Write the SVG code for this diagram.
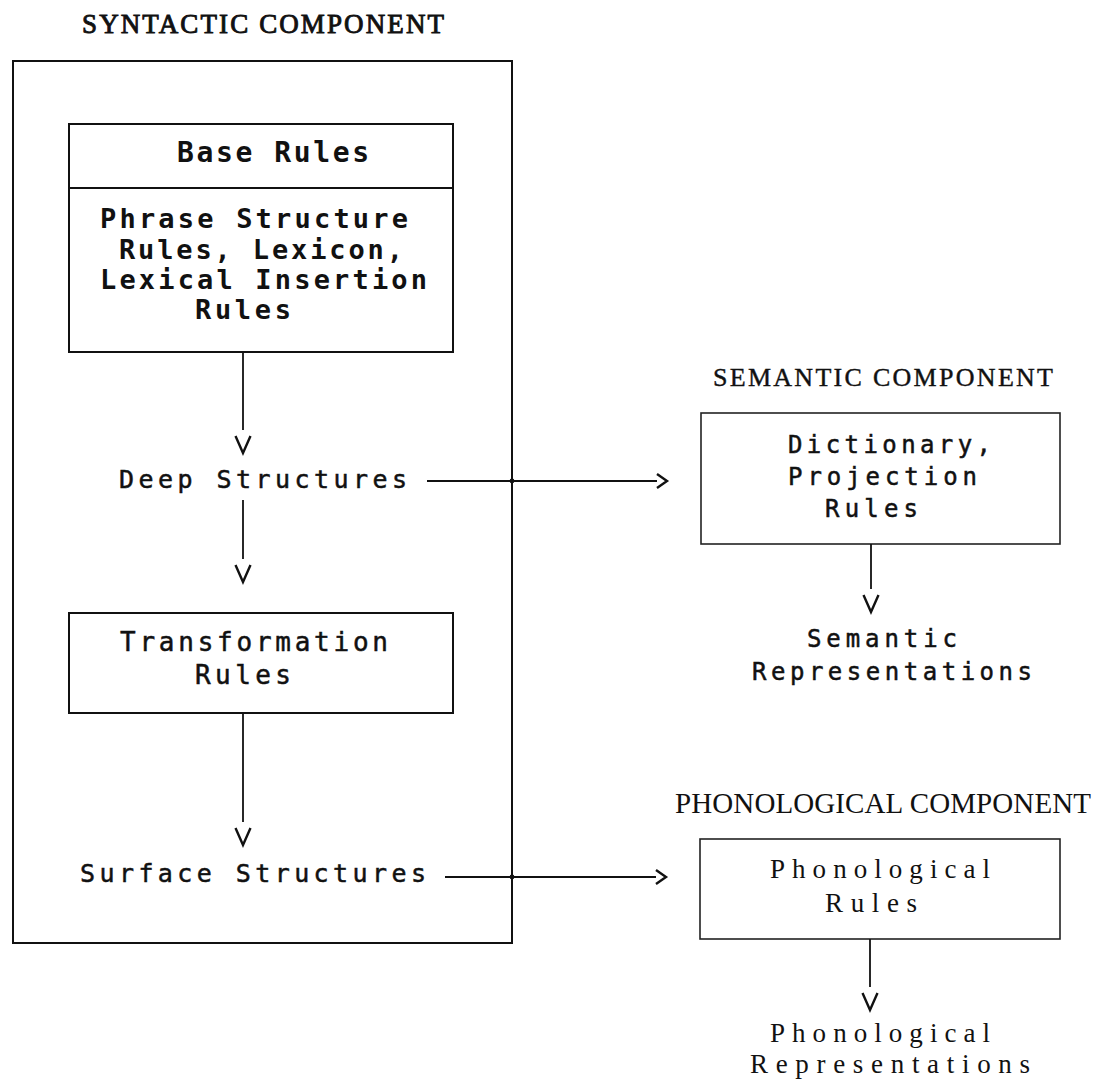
<svg xmlns="http://www.w3.org/2000/svg" width="1094" height="1080" viewBox="0 0 1094 1080">
  <style>
    .bg { fill: #ffffff; }
    .box { fill: none; stroke: #111; stroke-width: 2; }
    .box-thin { fill: none; stroke: #222; stroke-width: 1.6; }
    .conn { fill: none; stroke: #111; stroke-width: 1.8; }
    .title { font-family: "Liberation Serif", "Times New Roman", serif; fill: #111; stroke: #111; stroke-width: 0.9; }
    .title-serif { font-family: "Liberation Serif", "Times New Roman", serif; fill: #111; }
    .mono { font-family: "DejaVu Sans Mono", "Liberation Mono", monospace; fill: #111; stroke: #111; stroke-width: 0.5; }
    .bold { font-weight: bold; stroke-width: 0; }
    .serif { font-family: "Liberation Serif", "Times New Roman", serif; fill: #111; }
  </style>
  <defs>
    <!-- open chevron heads, drawn a little past the end of each line -->
    <marker id="headV" markerUnits="userSpaceOnUse" orient="auto" markerWidth="30" markerHeight="30" refX="-6" refY="0" viewBox="-8 -10 30 20" overflow="visible">
      <path d="M0,-7.5 L17,0 L0,7.5" fill="none" stroke="#111" stroke-width="2.4"/>
    </marker>
    <marker id="headGt" markerUnits="userSpaceOnUse" orient="auto" markerWidth="20" markerHeight="20" refX="0" refY="0" viewBox="-2 -10 20 20" overflow="visible">
      <path d="M0,-7 L10,0 L0,7" fill="none" stroke="#111" stroke-width="2.4"/>
    </marker>
  </defs>

  <rect class="bg" x="0" y="0" width="1094" height="1080"/>

  <!-- syntactic component -->
  <g id="syntactic-component">
    <text class="title" x="82" y="33" font-size="27" textLength="362" lengthAdjust="spacing">SYNTACTIC COMPONENT</text>
    <rect class="box" x="13" y="61" width="499" height="882"/>
  </g>

  <g id="base-rules">
    <rect class="box" x="69" y="124" width="384" height="228"/>
    <line class="box" x1="69" y1="188" x2="453" y2="188"/>
    <text class="mono bold" x="177" y="162" font-size="28" textLength="192" lengthAdjust="spacing">Base Rules</text>
    <text class="mono bold" x="100" y="228" font-size="27" textLength="308" lengthAdjust="spacing">Phrase Structure</text>
    <text class="mono bold" x="119" y="259" font-size="27" textLength="284" lengthAdjust="spacing">Rules, Lexicon,</text>
    <text class="mono bold" x="100" y="289" font-size="27" textLength="327" lengthAdjust="spacing">Lexical Insertion</text>
    <text class="mono bold" x="195" y="319" font-size="27" textLength="96" lengthAdjust="spacing">Rules</text>
  </g>

  <g id="deep-structures">
    <text class="mono" x="119" y="488" font-size="25" textLength="288" lengthAdjust="spacing">Deep Structures</text>
  </g>

  <g id="transformation-rules">
    <rect class="box" x="69" y="613" width="384" height="100"/>
    <text class="mono" x="120" y="651" font-size="26" textLength="268" lengthAdjust="spacing">Transformation</text>
    <text class="mono" x="195" y="684" font-size="26" textLength="96" lengthAdjust="spacing">Rules</text>
  </g>

  <g id="surface-structures">
    <text class="mono" x="80" y="882" font-size="25" textLength="346" lengthAdjust="spacing">Surface Structures</text>
  </g>

  <!-- semantic component -->
  <g id="semantic-component">
    <text class="title" x="713" y="386" font-size="26" textLength="340" lengthAdjust="spacing" style="stroke-width:0.4">SEMANTIC COMPONENT</text>
    <rect class="box-thin" x="701" y="413" width="359" height="131"/>
    <text class="mono" x="788" y="453" font-size="24" textLength="203" lengthAdjust="spacing">Dictionary,</text>
    <text class="mono" x="788" y="485" font-size="24" textLength="189" lengthAdjust="spacing">Projection</text>
    <text class="mono" x="825" y="517" font-size="24" textLength="93" lengthAdjust="spacing">Rules</text>
  </g>

  <g id="semantic-representations">
    <text class="mono" x="807" y="647" font-size="24" textLength="150" lengthAdjust="spacing">Semantic</text>
    <text class="mono" x="752" y="680" font-size="24" textLength="280" lengthAdjust="spacing">Representations</text>
  </g>

  <!-- phonological component -->
  <g id="phonological-component">
    <text class="title-serif" x="675" y="813" font-size="29" textLength="416" lengthAdjust="spacing">PHONOLOGICAL COMPONENT</text>
    <rect class="box-thin" x="700" y="839" width="360" height="100"/>
    <text class="serif" x="770" y="878" font-size="27" textLength="220" lengthAdjust="spacing">Phonological</text>
    <text class="serif" x="825" y="912" font-size="27" textLength="92" lengthAdjust="spacing">Rules</text>
  </g>

  <g id="phonological-representations">
    <text class="serif" x="770" y="1042" font-size="27" textLength="220" lengthAdjust="spacing">Phonological</text>
    <text class="serif" x="750" y="1073" font-size="27" textLength="280" lengthAdjust="spacing">Representations</text>
  </g>

  <!-- connectors -->
  <g id="connectors">
    <line class="conn" x1="243" y1="352" x2="243" y2="430" marker-end="url(#headV)"/>
    <line class="conn" x1="243" y1="500" x2="243" y2="559" marker-end="url(#headV)"/>
    <line class="conn" x1="243" y1="713" x2="243" y2="822" marker-end="url(#headV)"/>
    <line class="conn" x1="871" y1="544" x2="871" y2="589" marker-end="url(#headV)"/>
    <line class="conn" x1="870" y1="939" x2="870" y2="987" marker-end="url(#headV)"/>
    <line class="conn" x1="427" y1="481" x2="657" y2="481" marker-end="url(#headGt)"/>
    <line class="conn" x1="445" y1="877" x2="656" y2="877" marker-end="url(#headGt)"/>
    <circle cx="512" cy="481" r="2.4" fill="#111"/>
    <circle cx="512" cy="877" r="2.4" fill="#111"/>
  </g>
</svg>
